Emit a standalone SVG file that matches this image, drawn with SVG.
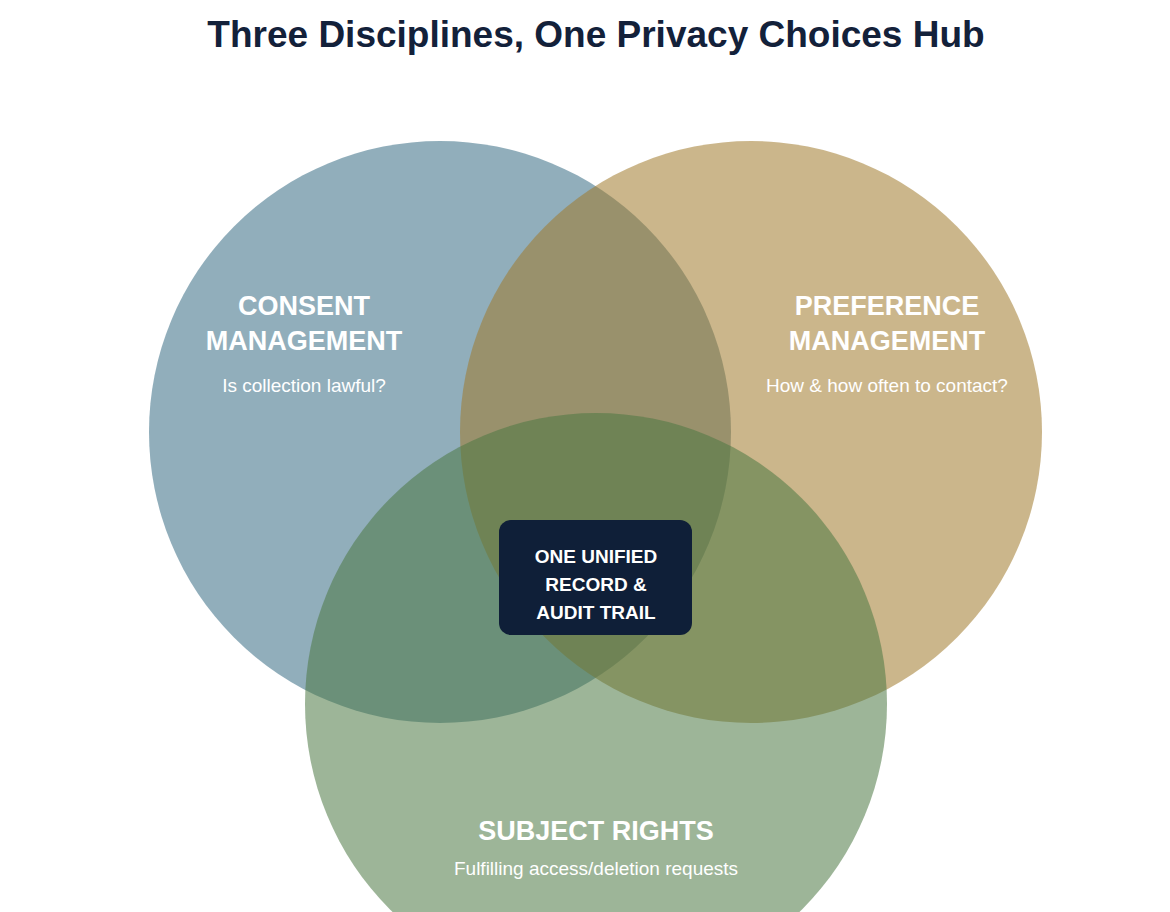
<svg xmlns="http://www.w3.org/2000/svg" width="1170" height="912" viewBox="0 0 1170 912">
<style>
.c{opacity:0.55}
.h{font-family:"Liberation Sans",Arial,sans-serif;font-weight:bold;font-size:27px;fill:#fff;text-anchor:middle}
.s{font-family:"Liberation Sans",Arial,sans-serif;font-size:19px;fill:#fff;text-anchor:middle}
.b{font-family:"Liberation Sans",Arial,sans-serif;font-weight:bold;font-size:19px;fill:#fff;text-anchor:middle}
</style>
<rect width="1170" height="912" fill="#fff"/>
<text x="596" y="47" font-family="Liberation Sans,Arial,sans-serif" font-weight="bold" font-size="37" fill="#13213a" text-anchor="middle">Three Disciplines, One Privacy Choices Hub</text>
<g id="consent"><circle class="c" cx="440" cy="432" r="291" fill="#376c83"/></g>
<g id="preference"><circle class="c" cx="751" cy="432" r="291" fill="#a07a2c"/></g>
<g id="subject"><circle class="c" cx="596" cy="704" r="291" fill="#4d7844"/></g>
<g id="labels">
<text class="h" x="304" y="315">CONSENT</text>
<text class="h" x="304" y="350">MANAGEMENT</text>
<text class="s" x="304" y="392">Is collection lawful?</text>
<text class="h" x="887" y="315">PREFERENCE</text>
<text class="h" x="887" y="350">MANAGEMENT</text>
<text class="s" x="887" y="392">How &amp; how often to contact?</text>
<text class="h" x="596" y="840">SUBJECT RIGHTS</text>
<text class="s" x="596" y="875">Fulfilling access/deletion requests</text>
</g>
<g id="hub">
<rect x="499" y="520" width="193" height="115" rx="12" fill="#0f1f38"/>
<text class="b" x="596" y="563">ONE UNIFIED</text>
<text class="b" x="596" y="591">RECORD &amp;</text>
<text class="b" x="596" y="619">AUDIT TRAIL</text>
</g>
<g id="connectors"/>
</svg>
